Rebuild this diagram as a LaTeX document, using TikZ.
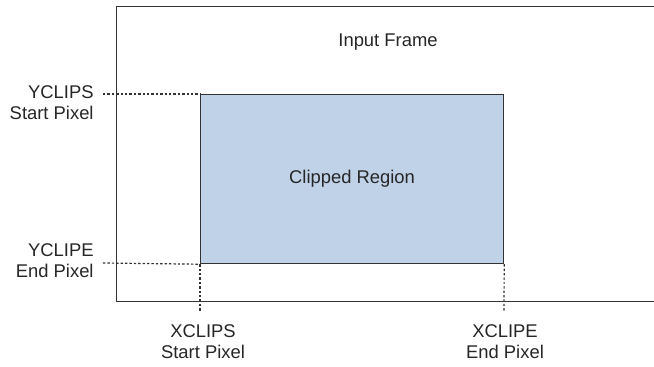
\documentclass[tikz,border=0pt]{standalone}
\usepackage{fontspec}
\setmainfont{Liberation Sans}
\begin{document}
\begin{tikzpicture}[x=0.5pt,y=-0.5pt,
  lbl/.style={inner sep=0pt,font=\fontsize{9.2}{10.6}\selectfont,text=black!85},
  edge/.style={draw=black!80,line width=0.6pt},
  guide/.style={draw=black!80,line width=0.6pt,dash pattern=on 1.2pt off 1pt}]
\clip (0,0) rectangle (654,366);
\fill[white] (0,0) rectangle (654,366);
% input frame
\node[edge,rectangle,inner sep=0pt,minimum width=600pt,minimum height=147.5pt,anchor=north west] (frame) at (116,6) {};
\node[lbl] (ftitle) at (388,42) {Input Frame};
% clipped region
\node[edge,rectangle,fill={rgb,255:red,192;green,210;blue,232},inner sep=0pt,minimum width=151.5pt,minimum height=84.5pt,anchor=north west] (clip) at (200,94) {};
\node[lbl] (ctitle) at (clip.center) {Clipped Region};
% labels
\node[lbl,align=right,anchor=east] (ys) at (94,103) {YCLIPS\\Start Pixel};
\node[lbl,align=right,anchor=east] (ye) at (94,261) {YCLIPE\\End Pixel};
\node[lbl,align=center] (xs) at (203,342) {XCLIPS\\Start Pixel};
\node[lbl,align=center] (xe) at (505,342) {XCLIPE\\End Pixel};
% guide lines
\coordinate (ysend) at (103,94);
\coordinate (yeend) at (103,263);
\coordinate (xsend) at (200,312);
\coordinate (xeend) at (504,312);
\draw[guide] (ysend) -- (clip.north west);
\draw[guide] (yeend) -- (clip.south west);
\draw[guide] (clip.south west) -- (xsend);
\draw[guide] (clip.south east) -- (xeend);
\end{tikzpicture}
\end{document}
